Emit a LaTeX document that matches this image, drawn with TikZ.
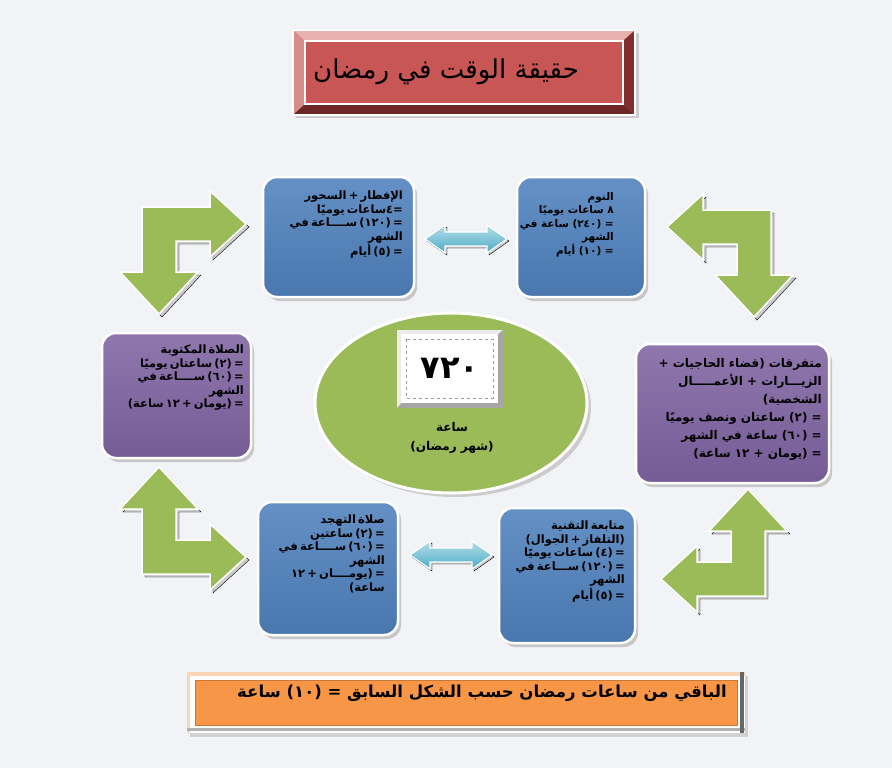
\documentclass[tikz,border=0pt]{standalone}
\usepackage{fontspec}
\newfontfamily\arabicfont[Script=Arabic]{DejaVu Sans}
\newcommand\cardfont{\arabicfont\bfseries\fontsize{11.5}{13.5}\selectfont\spaceskip=2.2pt plus 0.5pt\relax}
\TeXXeTstate=1
\definecolor{paper}{RGB}{242,243,247}
\definecolor{titlered}{RGB}{199,86,84}
\definecolor{titlepink}{RGB}{232,178,176}
\definecolor{titlerose}{RGB}{214,140,138}
\definecolor{titlemaroon}{RGB}{128,46,46}
\definecolor{cardblue}{RGB}{79,129,189}
\definecolor{cardpurple}{RGB}{128,100,162}
\definecolor{leafgreen}{RGB}{155,187,89}
\definecolor{seablue}{RGB}{75,172,198}
\definecolor{barorange}{RGB}{247,150,70}

\begin{document}
\begin{tikzpicture}[x=1pt,y=-1pt,
    card/.style={rounded corners=14pt, draw=white, line width=2.5pt},
    cardshadow/.style={rounded corners=14pt, fill=black!22},
    cardtext/.style={anchor=north east, align=right, inner sep=0pt, font=\cardfont},
    bentarrow/.style={fill=leafgreen, draw=white, line width=1.5pt},
    bentshadow/.style={fill=black!20},
    twinarrow/.style={top color=seablue!40!white, bottom color=seablue, draw=white, line width=1.2pt},
    twinshadow/.style={fill=black!20}]

            \fill[paper] (0,0) rectangle (892,768);
            \useasboundingbox (0,0) rectangle (892,768);

            \fill[black!20] (296,33) rectangle (639,118);
            \fill[titlepink] (293,30) -- (635,30) -- (623,41) -- (305,41) -- cycle;
            \fill[titlerose] (293,30) -- (305,41) -- (305,104) -- (293,115) -- cycle;
            \fill[titlemaroon] (635,30) -- (635,115) -- (623,104) -- (623,41) -- cycle;
            \fill[titlemaroon!85!black] (293,115) -- (635,115) -- (623,104) -- (305,104) -- cycle;
            \draw[white, line width=1.2pt, fill=titlered] (305,41) rectangle (623,104);
            \draw[white, line width=1.5pt] (293,30) rectangle (635,115);
            \node (title) at (446,72) [font=\arabicfont\fontsize{26}{30}\selectfont] {\beginR حقيقة الوقت في رمضان\endR};

            \foreach \xa/\ya/\xb/\yb/\col in {263/177/414/297/cardblue, 517/177/645/297/cardblue, 102/333/251/458/cardpurple, 636/344/829/483/cardpurple, 258/502/398/635/cardblue, 499/508/635/643/cardblue} {
                \fill[cardshadow] (\xa+3,\ya+4) rectangle (\xb+3,\yb+4);
                \draw[card, top color=\col!88!white, bottom color=\col!92!black] (\xa,\ya) rectangle (\xb,\yb);
            }

            \foreach \cx/\cy/\sx/\sy in {142/207/1/1, 771/210/-1/1, 142/574/1/-1, 765/596/-1/-1} {
                \foreach \d/\sty in {3/bentshadow, 0/bentarrow}
                    \draw[\sty, shift={(\cx+\d,\cy+\d)}, xscale=\sx, yscale=\sy]
                        (0,0) -- (68,0) -- (68,-16) -- (104,17) -- (68,50) -- (68,34) -- (34,34) -- (34,65)
                        -- (56,65) -- (17,107) -- (-22,65) -- (0,65) -- cycle;
            }

            \foreach \cx/\cy in {466/239, 451/555} {
                \foreach \d/\sty in {2/twinshadow, 0/twinarrow}
                    \draw[\sty, shift={(\cx+\d,\cy+\d)}] (-41,0) -- (-21,-14) -- (-21,-7) -- (21,-7) -- (21,-14)
                        -- (41,0) -- (21,14) -- (21,7) -- (-21,7) -- (-21,14) -- cycle;
            }

            \node (meals) at (403,191) [cardtext] {\beginR الإفطار + السحور\endR\\ \beginR =٤ساعات يوميًا\endR\\ \beginR = (١٢٠) ســــاعة في\endR\\ \beginR الشهر\endR\\ \beginR = (٥) أيام\endR};
            \node (sleep) at (614,192) [cardtext, font=\arabicfont\bfseries\fontsize{10.5}{13.5}\selectfont] {\beginR النوم\endR\\ \beginR ٨ ساعات يوميًا\endR\\ \beginR = (٢٤٠) ساعة في\endR\\ \beginR الشهر\endR\\ \beginR = (١٠) أيام\endR};
            \node (prayer) at (244,345) [cardtext] {\beginR الصلاة المكتوبة\endR\\ \beginR = (٢) ساعتان يوميًا\endR\\ \beginR = (٦٠) ســــاعة في\endR\\ \beginR الشهر\endR\\ \beginR = (يومان + ١٢ ساعة)\endR};
            \node (errands) at (822,358) [cardtext, font=\arabicfont\bfseries\fontsize{12}{18}\selectfont] {\beginR متفرقات (قضاء الحاجيات +\endR\\ \beginR الزيـــارات + الأعمـــــال\endR\\ \beginR الشخصية)\endR\\ \beginR = (٢) ساعتان ونصف يوميًا\endR\\ \beginR = (٦٠) ساعة في الشهر\endR\\ \beginR = (يومان + ١٢ ساعة)\endR};
            \node (night) at (385,515) [cardtext] {\beginR صلاة التهجد\endR\\ \beginR = (٢) ساعتين\endR\\ \beginR = (٦٠) ســــاعة في\endR\\ \beginR الشهر\endR\\ \beginR = (يومــــان + ١٢\endR\\ \beginR ساعة)\endR};
            \node (screens) at (625,521) [cardtext] {\beginR متابعة التقنية\endR\\ \beginR (التلفاز + الجوال)\endR\\ \beginR = (٤) ساعات يوميًا\endR\\ \beginR = (١٢٠) ســـاعة في\endR\\ \beginR الشهر\endR\\ \beginR = (٥) أيام\endR};

            \fill[black!20] (455,407) ellipse [x radius=136, y radius=90];
            \draw[white, line width=3pt, fill=leafgreen] (451,403) ellipse [x radius=136, y radius=90];
            \fill[black!35] (397,330) rectangle (503,408);
            \fill[black!8] (397,330) -- (503,330) -- (498,334) -- (401,334) -- (401,403) -- (397,408) -- cycle;
            \fill[white] (401,334) rectangle (498,403);
            \draw[black!40, dashed, line width=0.8pt] (406,339) rectangle (493,398);
            \node (total) at (450,368) [font=\arabicfont\bfseries\fontsize{32}{34}\selectfont] {٧٢٠};
            \node (hours) at (452,427) [font=\arabicfont\bfseries\fontsize{12}{14}\selectfont] {\beginR ساعة\endR};
            \node (month) at (452,447) [font=\arabicfont\bfseries\fontsize{12}{14}\selectfont] {\beginR (شهر رمضان)\endR};

            \fill[black!18] (190,676) rectangle (748,737);
            \fill[white] (187,672) rectangle (745,733);
            \fill[barorange!40!white] (187,672) rectangle (745,676);
            \fill[barorange!40!white] (187,672) rectangle (190,733);
            \fill[black!30] (187,728) rectangle (745,731);
            \fill[black!60] (740,672) rectangle (744,733);
            \draw[barorange!80!black, fill=barorange, line width=0.8pt] (195,680) rectangle (737,725);
            \node (rest) at (482,693) [font=\arabicfont\bfseries\fontsize{16.5}{18}\selectfont] {\beginR الباقي من ساعات رمضان حسب الشكل السابق = (١٠) ساعة\endR};

        \end{tikzpicture}
\end{document}
